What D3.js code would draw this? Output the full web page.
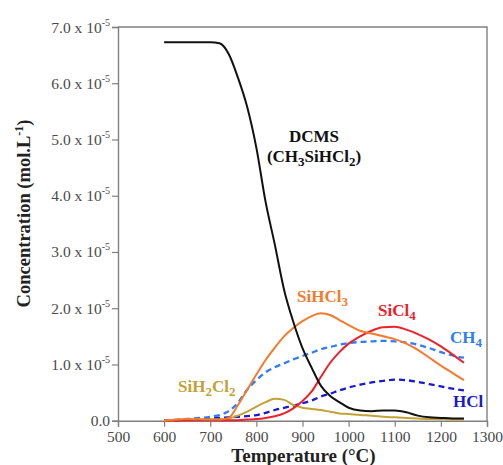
<!DOCTYPE html>
<html><head><meta charset="utf-8">
<script src="https://cdn.jsdelivr.net/npm/d3@7/dist/d3.min.js"></script>
<style>body{margin:0;background:#fff}svg{display:block}</style>
</head><body>
<svg id="c" width="503" height="465"></svg>
<script>
// Temperature (°C)
const temps   = [600,650,700,720,740,760,780,800,820,840,860,880,900,920,940,960,980,1000,1025,1050,1075,1100,1125,1150,1175,1200,1225,1250];
// Concentrations in units of 1e-5 mol/L
const dcms    = [6.73,6.73,6.73,6.71,6.52,6.10,5.58,4.85,3.89,3.13,2.33,1.76,1.29,0.94,0.62,0.44,0.33,0.23,0.18,0.17,0.18,0.18,0.15,0.09,0.06,0.05,0.04,0.04];
const sihcl3  = [0.00,0.03,0.02,0.02,0.05,0.28,0.55,0.82,1.08,1.30,1.50,1.65,1.77,1.86,1.91,1.88,1.79,1.70,1.60,1.55,1.50,1.45,1.37,1.26,1.12,0.98,0.85,0.72];
const sicl4   = [0.00,0.01,0.01,0.01,0.01,0.01,0.02,0.03,0.05,0.08,0.13,0.22,0.35,0.52,0.78,1.03,1.22,1.37,1.50,1.60,1.66,1.67,1.62,1.54,1.44,1.32,1.18,1.03];
const ch4     = [0.00,0.03,0.07,0.10,0.17,0.32,0.55,0.72,0.86,0.95,1.02,1.09,1.15,1.21,1.27,1.31,1.35,1.38,1.40,1.41,1.42,1.41,1.39,1.35,1.29,1.22,1.16,1.12];
const hcl     = [0.00,0.02,0.04,0.05,0.06,0.07,0.08,0.10,0.14,0.19,0.23,0.27,0.31,0.36,0.43,0.48,0.54,0.59,0.64,0.68,0.71,0.73,0.72,0.69,0.65,0.61,0.57,0.54];
const sih2cl2 = [0.00,0.02,0.02,0.02,0.04,0.09,0.16,0.25,0.33,0.39,0.37,0.28,0.23,0.21,0.19,0.16,0.13,0.12,0.10,0.09,0.07,0.06,0.05,0.04,0.03,0.03,0.02,0.02];

const xTickValues = [500,600,700,800,900,1000,1100,1200,1300];
const yTickValues = [0,1,2,3,4,5,6,7];
const yTickMantissa = ["0.0","1.0","2.0","3.0","4.0","5.0","6.0","7.0"];
const yExponent = "-5";

const svg = d3.select("#c");
const FONT = "'Liberation Serif','Times New Roman',Times,serif";
const x = d3.scaleLinear().domain([500,1300]).range([118,487]);
const y = d3.scaleLinear().domain([0,7]).range([420.7,27]);
const axisCol = "#808080", labCol = "#4a4a4a";

// frame (top & right)
svg.append("path").attr("d",`M${x(500)},${y(7)}H${x(1300)}V${y(0)}`)
  .attr("fill","none").attr("stroke",axisCol).attr("stroke-width",1.4);

// X axis
const gx = svg.append("g").attr("transform",`translate(0,${y(0)})`);
gx.call(d3.axisBottom(x).tickValues(d3.range(500,1301,20)).tickSize(3).tickFormat(""));
gx.call(d3.axisBottom(x).tickValues(xTickValues).tickSize(6).tickPadding(4).tickFormat(d3.format("d")));
gx.selectAll(".domain").attr("stroke",axisCol).attr("stroke-width",1.4);
gx.selectAll(".tick line").attr("stroke",axisCol).attr("stroke-width",1.2);
gx.selectAll(".tick text").attr("font-family",FONT).attr("font-size",15.5).attr("fill",labCol);

// Y axis
const gy = svg.append("g").attr("transform",`translate(${x(500)},0)`);
gy.call(d3.axisLeft(y).tickValues(d3.range(0,7.01,0.2)).tickSize(3).tickFormat(""));
gy.call(d3.axisLeft(y).tickValues(yTickValues).tickSize(6).tickPadding(8).tickFormat(""));
gy.selectAll(".domain").attr("stroke",axisCol).attr("stroke-width",1.4);
gy.selectAll(".tick line").attr("stroke",axisCol).attr("stroke-width",1.2);
yTickValues.forEach((v,i)=>{
  const t = svg.append("text").attr("x",110).attr("y",y(v)+5.5)
    .attr("text-anchor","end").attr("font-family",FONT).attr("font-size",15.5).attr("fill",labCol);
  if (v===0) { t.text(yTickMantissa[i]); }
  else {
    t.append("tspan").text(yTickMantissa[i]+" x 10");
    t.append("tspan").attr("dy",-7).attr("font-size",10).text(yExponent);
  }
});

// Axis titles
svg.append("text").attr("x",303.5).attr("y",462).attr("text-anchor","middle")
  .attr("font-family",FONT).attr("font-weight","bold").attr("font-size",19).attr("fill","#222")
  .text("Temperature (°C)");
const yt = svg.append("text").attr("transform","translate(30,213.5) rotate(-90)").attr("text-anchor","middle")
  .attr("font-family",FONT).attr("font-weight","bold").attr("font-size",18.5).attr("fill","#222");
yt.append("tspan").text("Concentration (mol.L");
yt.append("tspan").attr("dy",-7).attr("font-size",12).text("-1");
yt.append("tspan").attr("dy",7).text(")");

// Curves
const line = vals => d3.line().x((d,i)=>x(temps[i])).y(d=>y(d)).curve(d3.curveMonotoneX)(vals);
const series = [
  {v:hcl, c:"#1a1ad0", dash:"6,4"},
  {v:ch4, c:"#2f7df5", dash:"6,4"},
  {v:sih2cl2, c:"#c2a236"},
  {v:sicl4, c:"#f0202a"},
  {v:sihcl3, c:"#f57a2c"},
  {v:dcms, c:"#111111"}
];
series.forEach(s=>{
  svg.append("path").attr("d",line(s.v)).attr("fill","none").attr("stroke",s.c)
    .attr("stroke-width",s.dash?2.3:2).attr("stroke-dasharray",s.dash||null).attr("stroke-linejoin","round");
});

// Labels with subscripts
function label(parts, xx, yy, col, anchor){
  const t = svg.append("text").attr("x",xx).attr("y",yy).attr("fill",col)
    .attr("font-family",FONT).attr("font-weight","bold").attr("font-size",17)
    .attr("text-anchor",anchor||"start");
  let sub=false;
  parts.forEach(p=>{
    const isSub = /^[0-9]$/.test(p);
    const ts = t.append("tspan").text(p);
    if (isSub && !sub){ ts.attr("dy",4).attr("font-size",13); sub=true; }
    else if (isSub){ ts.attr("font-size",13); }
    else if (sub){ ts.attr("dy",-4); sub=false; }
  });
}
label(["DCMS"],314,141.5,"#111","middle");
label(["(CH","3","SiHCl","2",")"],314,161.5,"#111","middle");
label(["SiHCl","3"],297,301.5,"#f57a2c");
label(["SiCl","4"],378,316,"#f0202a");
label(["CH","4"],450,342.5,"#2f7df5");
label(["HCl"],453,407,"#1a1ad0");
label(["SiH","2","Cl","2"],178,391.5,"#c2a236");
</script>
</body></html>
